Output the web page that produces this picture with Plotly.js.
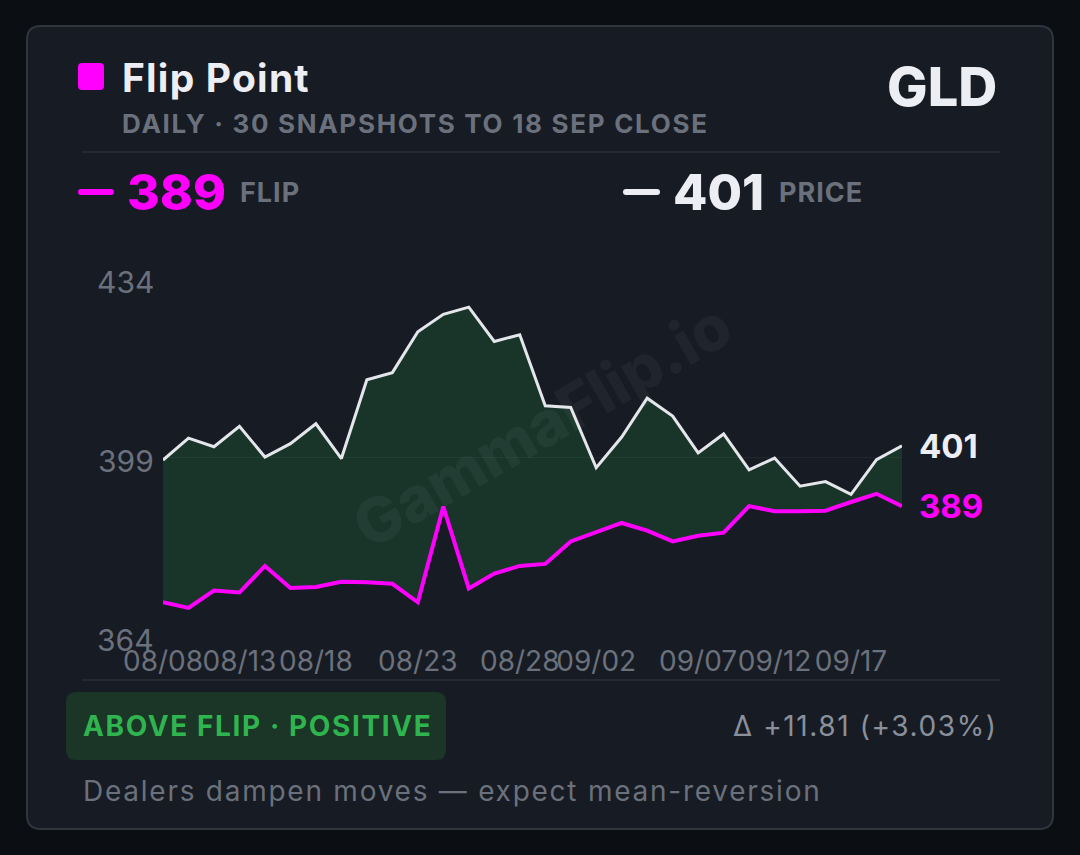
<!DOCTYPE html>
<html>
<head>
<meta charset="utf-8">
<script src="https://cdn.plot.ly/plotly-3.0.1.min.js"></script>
<style>
  html, body { margin: 0; padding: 0; background: #0b0e12; }
  #chart { width: 1080px; height: 855px; }
</style>
</head>
<body>
<div id="chart"></div>
<script>
// ---- Data ----
const snapshotDates = [
  "2025-08-08","2025-08-11","2025-08-12","2025-08-13","2025-08-14","2025-08-15",
  "2025-08-18","2025-08-19","2025-08-20","2025-08-21","2025-08-22",
  "2025-08-25","2025-08-26","2025-08-27","2025-08-28","2025-08-29",
  "2025-09-01","2025-09-02","2025-09-03","2025-09-04","2025-09-05",
  "2025-09-08","2025-09-09","2025-09-10","2025-09-11","2025-09-12",
  "2025-09-15","2025-09-16","2025-09-17","2025-09-18"
];
const priceValues = [
  398.4, 402.7, 401.0, 405.0, 399.0, 401.6, 405.5, 398.7, 414.1, 415.5,
  423.5, 426.9, 428.3, 421.6, 422.9, 409.0, 408.7, 396.9, 402.9, 410.5,
  407.0, 399.8, 403.5, 396.5, 398.8, 393.3, 394.2, 391.7, 398.5, 401.21
];
const flipValues = [
  370.6, 369.5, 372.9, 372.5, 377.7, 373.4, 373.6, 374.6, 374.5, 374.2,
  370.6, 389.3, 373.3, 376.2, 377.7, 378.1, 382.5, 384.2, 386.1, 384.6,
  382.5, 383.6, 384.2, 389.4, 388.4, 388.4, 388.5, 390.2, 391.8, 389.40
];
const tickLabelIndex = [0, 3, 6, 10, 14, 17, 21, 24, 27];
const tickLabels = ["08/08","08/13","08/18","08/23","08/28","09/02","09/07","09/12","09/17"];
const yTicks = [364, 399, 434];

// ---- Derived ----
const lastPrice = priceValues[priceValues.length - 1];
const lastFlip = flipValues[flipValues.length - 1];
const lastDate = snapshotDates[snapshotDates.length - 1];
const delta = lastPrice - lastFlip;
const deltaPct = delta / lastFlip * 100;
const xTickText = snapshotDates.map((d, i) => {
  const k = tickLabelIndex.indexOf(i);
  return k >= 0 ? tickLabels[k] : "";
});

// ---- Pixel helpers (layout only) ----
const W = 1080, H = 855;
const L = 163, R = 178, T = 278, B = 219;
const PW = W - L - R, PH = H - T - B;
const px = x => (x - L) / PW;
const py = y => (H - B - y) / PH;

function roundRect(x0, y0, x1, y1, r) {
  const a = px(x0), b = px(x1), c = py(y0), d = py(y1);
  const rx = r / PW, ry = r / PH;
  return `M ${a + rx} ${c} L ${b - rx} ${c} Q ${b} ${c} ${b} ${c - ry} ` +
         `L ${b} ${d + ry} Q ${b} ${d} ${b - rx} ${d} L ${a + rx} ${d} ` +
         `Q ${a} ${d} ${a} ${d + ry} L ${a} ${c - ry} Q ${a} ${c} ${a + rx} ${c} Z`;
}

const FONT = "Inter, Roboto, sans-serif";
const MAGENTA = "#ff00ff";
const WHITE = "#eceef3";
const GRAY = "#6b717c";

function txt(text, x, y, opts) {
  return Object.assign({
    text: text, xref: "paper", yref: "paper", x: px(x), y: py(y),
    showarrow: false, xanchor: "left", yanchor: "middle"
  }, opts);
}

const shapes = [
  { type: "path", xref: "paper", yref: "paper", layer: "below",
    path: roundRect(27, 26, 1053, 829, 14),
    fillcolor: "#171b23", line: { color: "#30353e", width: 2 } },
  { type: "line", xref: "paper", yref: "paper", layer: "below",
    x0: px(82), x1: px(1000), y0: py(152), y1: py(152),
    line: { color: "#262b33", width: 2 } },
  { type: "line", xref: "paper", yref: "paper", layer: "below",
    x0: px(82), x1: px(1000), y0: py(680), y1: py(680),
    line: { color: "#262b33", width: 2 } },
  { type: "path", xref: "paper", yref: "paper",
    path: roundRect(78, 63, 104, 90, 4), fillcolor: MAGENTA, line: { width: 0 } },
  { type: "path", xref: "paper", yref: "paper",
    path: roundRect(78, 189, 114, 195, 3), fillcolor: MAGENTA, line: { width: 0 } },
  { type: "path", xref: "paper", yref: "paper",
    path: roundRect(623, 189, 660, 195, 3), fillcolor: WHITE, line: { width: 0 } },
  { type: "path", xref: "paper", yref: "paper",
    path: roundRect(66, 692, 446, 760, 10), fillcolor: "#1b3526", line: { width: 0 } }
];

// annotations paired with letter-spacing (px)
const annoDefs = [
  [txt("GammaFlip.io", 541, 425, { xanchor: "center", textangle: -30,
    font: { family: FONT, size: 62, weight: 800, color: "rgba(255,255,255,0.045)" } }), 0],
  [txt("Flip Point", 120, 78, { font: { family: FONT, size: 39, weight: 700, color: WHITE } }), 1.2],
  [txt("DAILY · 30 SNAPSHOTS TO 18 SEP CLOSE", 120, 124,
    { font: { family: FONT, size: 26, weight: 700, color: GRAY } }), 1.7],
  [txt("GLD", 999, 87, { xanchor: "right",
    font: { family: FONT, size: 54, weight: 800, color: WHITE } }), 0],
  ...yTicks.map(v => [{ text: String(v), x: px(156), y: v, xref: "paper", yref: "y",
    showarrow: false, xanchor: "right", yanchor: "middle", yshift: -4,
    font: { family: FONT, size: 30, weight: 400, color: GRAY } }, 0]),
  [txt(lastFlip.toFixed(0), 125, 192, { font: { family: FONT, size: 50, weight: 800, color: MAGENTA } }), 0],
  [txt("FLIP", 238, 192, { font: { family: FONT, size: 27, weight: 700, color: GRAY } }), 1],
  [txt(lastPrice.toFixed(0), 671, 192, { font: { family: FONT, size: 50, weight: 800, color: WHITE } }), 0],
  [txt("PRICE", 777, 192, { font: { family: FONT, size: 27, weight: 700, color: GRAY } }), 1],
  [{ text: lastPrice.toFixed(0), x: lastDate, y: lastPrice, xref: "x", yref: "y",
    showarrow: false, xanchor: "left", yanchor: "middle", xshift: 15,
    font: { family: FONT, size: 33, weight: 700, color: WHITE } }, 0],
  [{ text: lastFlip.toFixed(0), x: lastDate, y: lastFlip, xref: "x", yref: "y",
    showarrow: false, xanchor: "left", yanchor: "middle", xshift: 15,
    font: { family: FONT, size: 33, weight: 700, color: MAGENTA } }, 0],
  [txt("ABOVE FLIP · POSITIVE", 81, 726, { font: { family: FONT, size: 28, weight: 700, color: "#2fb44f" } }), 1.6],
  [txt("Δ +" + delta.toFixed(2) + " (+" + deltaPct.toFixed(2) + "%)", 731, 726,
    { font: { family: FONT, size: 28, weight: 400, color: "#8a909b" } }), 1.6],
  [txt("Dealers dampen moves — expect mean-reversion", 81, 791,
    { font: { family: FONT, size: 28, weight: 400, color: GRAY } }), 1.75]
];
const annotations = annoDefs.map(d => d[0]);
const letterSpacing = annoDefs.map(d => d[1]);

const traces = [
  { x: snapshotDates, y: flipValues, type: "scatter", mode: "lines", name: "Flip",
    line: { color: MAGENTA, width: 4 }, hoverinfo: "skip" },
  { x: snapshotDates, y: priceValues, type: "scatter", mode: "lines", name: "Price",
    line: { color: "#e4e6eb", width: 3 }, fill: "tonexty",
    fillcolor: "rgba(40,190,80,0.16)", hoverinfo: "skip" }
];

const layout = {
  width: W, height: H,
  margin: { l: L, r: R, t: T, b: B, pad: 0 },
  paper_bgcolor: "#0b0e12",
  plot_bgcolor: "rgba(0,0,0,0)",
  showlegend: false,
  xaxis: {
    type: "category",
    range: [0, snapshotDates.length - 1],
    tickvals: snapshotDates, ticktext: xTickText,
    showgrid: false, zeroline: false, showline: false, ticks: "",
    tickangle: 0, automargin: false,
    ticklabelstandoff: 6,
    tickfont: { family: FONT, size: 28, color: GRAY }
  },
  yaxis: {
    range: [364, 434], tickvals: yTicks,
    showticklabels: false,
    showgrid: true, gridcolor: "#21262e", gridwidth: 1,
    zeroline: false, showline: false, ticks: "", automargin: false
  },
  shapes: shapes,
  annotations: annotations
};

Plotly.newPlot("chart", traces, layout, { displayModeBar: false, staticPlot: true }).then(gd => {
  gd.querySelectorAll(".annotation").forEach(g => {
    const i = parseInt(g.getAttribute("data-index"), 10);
    const ls = letterSpacing[i];
    if (!ls) return;
    const t = g.querySelector("text.annotation-text");
    if (!t) return;
    const before = t.getBBox();
    t.style.letterSpacing = ls + "px";
    const after = t.getBBox();
    const shift = before.x - after.x;
    t.setAttribute("transform", "translate(" + shift + ",0)");
  });
});
</script>
</body>
</html>
